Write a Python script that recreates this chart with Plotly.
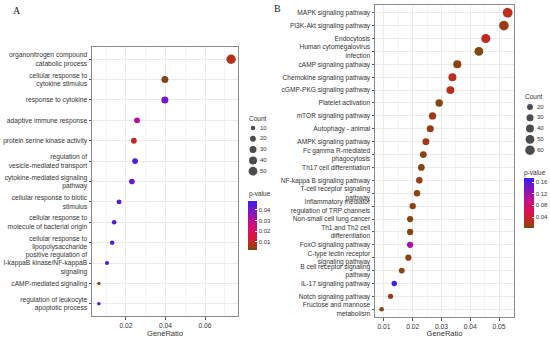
import plotly.graph_objects as go
import numpy as np

# ---------------- Panel A data ----------------
a_terms = [
    "organonitrogen compound<br>catabolic process",
    "cellular response to<br>cytokine stimulus",
    "response to cytokine",
    "adaptive immune response",
    "protein serine kinase activity",
    "regulation of<br>vesicle-mediated transport",
    "cytokine-mediated signaling<br>pathway",
    "cellular response to biotic<br>stimulus",
    "cellular response to<br>molecule of bacterial origin",
    "cellular response to<br>lipopolysaccharide",
    "positive regulation of<br>I-kappaB kinase/NF-kappaB<br>signaling",
    "cAMP-mediated signaling",
    "regulation of leukocyte<br>apoptotic process",
]
a_ratio = [0.0732, 0.0397, 0.0397, 0.0256, 0.0240, 0.0246, 0.0230, 0.0165, 0.0140, 0.0130, 0.0104, 0.0063, 0.0063]
a_count = [58, 30, 30, 20, 19, 19, 18, 13, 11, 10, 8, 5, 5]
a_pvalue = [0.008, 0.003, 0.040, 0.030, 0.010, 0.045, 0.042, 0.043, 0.045, 0.045, 0.046, 0.004, 0.048]
a_xticks = [0.02, 0.04, 0.06]
a_count_breaks = [10, 20, 30, 40, 50]
a_p_ticks = [0.01, 0.02, 0.03, 0.04]
a_p_range = [0.0025, 0.0484]

# ---------------- Panel B data ----------------
b_terms = [
    "MAPK signaling pathway",
    "PI3K-Akt signaling pathway",
    "Endocytosis",
    "Human cytomegalovirus<br>infection",
    "cAMP signaling pathway",
    "Chemokine signaling pathway",
    "cGMP-PKG signaling pathway",
    "Platelet activation",
    "mTOR signaling pathway",
    "Autophagy - animal",
    "AMPK signaling pathway",
    "Fc gamma R-mediated<br>phagocytosis",
    "Th17 cell differentiation",
    "NF-kappa B signaling pathway",
    "T-cell receptor signaling<br>pathway",
    "Inflammatory mediator<br>regulation of TRP channels",
    "Non-small cell lung cancer",
    "Th1 and Th2 cell<br>differentiation",
    "FoxO signaling pathway",
    "C-type lectin receptor<br>signaling pathway",
    "B cell receptor signaling<br>pathway",
    "IL-17 signaling pathway",
    "Notch signaling pathway",
    "Fructose and mannose<br>metabolism",
]
b_ratio = [0.0530, 0.0517, 0.0454, 0.0430, 0.0355, 0.0338, 0.0331, 0.0292, 0.0269, 0.0261,
           0.0246, 0.0237, 0.0230, 0.0223, 0.0215, 0.0200, 0.0191, 0.0191, 0.0191, 0.0185,
           0.0162, 0.0136, 0.0123, 0.0092]
b_count = [63, 61, 54, 51, 42, 40, 39, 34, 32, 31, 29, 28, 27, 26, 25, 24, 23, 23, 23, 22, 19, 16, 15, 11]
b_pvalue = [0.025, 0.012, 0.030, 0.004, 0.008, 0.025, 0.022, 0.006, 0.015, 0.012,
            0.015, 0.008, 0.006, 0.014, 0.008, 0.010, 0.006, 0.006, 0.110, 0.010,
            0.008, 0.170, 0.012, 0.005]
b_xticks = [0.01, 0.02, 0.03, 0.04, 0.05]
b_count_breaks = [20, 30, 40, 50, 60]
b_p_ticks = [0.04, 0.08, 0.12, 0.16]
b_p_range = [0.0024, 0.174]

# ---------------- styling ----------------
W, H = 550, 338
FONT = "Liberation Sans, Arial, sans-serif"
TICK_COL = "#333333"
GRID = "#ebebeb"
SCALE = [[0.0, "#7a4a10"], [0.12, "#b8301a"], [0.3, "#e0104a"], [0.5, "#d0107a"],
         [0.7, "#9a10b0"], [0.85, "#6a18d0"], [1.0, "#3a1ef0"]]


def dia(c):
    return 1.0 + 1.1 * np.sqrt(np.asarray(c, dtype=float))


def px_x(x):
    return x / W


def px_y(y):
    return 1 - y / H


fig = go.Figure()

# Panel A points
fig.add_trace(go.Scatter(
    x=a_ratio, y=a_terms, mode="markers", xaxis="x", yaxis="y", showlegend=False,
    marker=dict(size=dia(a_count), color=a_pvalue, colorscale=SCALE,
                cmin=a_p_range[0], cmax=a_p_range[1], line=dict(width=0), opacity=1,
                showscale=True,
                colorbar=dict(x=px_x(248), xanchor="left", y=px_y(225.5), yanchor="middle",
                              lenmode="pixels", len=49, thicknessmode="pixels", thickness=9,
                              xpad=0, ypad=0, outlinewidth=0, tickvals=a_p_ticks,
                              ticktext=[f"{v:.2f}" for v in a_p_ticks],
                              ticks="inside", ticklen=2, tickcolor="white",
                              tickfont=dict(size=6, color=TICK_COL, family=FONT)))))

# Panel B points
fig.add_trace(go.Scatter(
    x=b_ratio, y=b_terms, mode="markers", xaxis="x2", yaxis="y2", showlegend=False,
    marker=dict(size=dia(b_count), color=b_pvalue, colorscale=SCALE,
                cmin=b_p_range[0], cmax=b_p_range[1], line=dict(width=0), opacity=1,
                showscale=True,
                colorbar=dict(x=px_x(524), xanchor="left", y=px_y(203), yanchor="middle",
                              lenmode="pixels", len=50, thicknessmode="pixels", thickness=10,
                              xpad=0, ypad=0, outlinewidth=0, tickvals=b_p_ticks,
                              ticktext=[f"{v:.2f}" for v in b_p_ticks],
                              ticks="inside", ticklen=2, tickcolor="white",
                              tickfont=dict(size=6, color=TICK_COL, family=FONT)))))

# Size legends on a pixel overlay axis
for x0, y0, breaks in [(253, 128, a_count_breaks), (530, 107, b_count_breaks)]:
    ys = [y0 + i * 10.8 for i in range(len(breaks))]
    fig.add_trace(go.Scatter(x=[x0] * len(breaks), y=ys, mode="markers", xaxis="x3", yaxis="y3",
                             showlegend=False, hoverinfo="skip",
                             marker=dict(size=dia(breaks), color="black", line=dict(width=0))))
    fig.add_trace(go.Scatter(x=[x0 + 7] * len(breaks), y=ys, mode="text", xaxis="x3", yaxis="y3",
                             showlegend=False, hoverinfo="skip", text=[str(b) for b in breaks],
                             textposition="middle right",
                             textfont=dict(size=6, color=TICK_COL, family=FONT)))

axis_common = dict(showline=True, mirror=True, linecolor="#8a8a8a", linewidth=1,
                   showgrid=True, gridcolor=GRID, gridwidth=1, zeroline=False,
                   ticks="outside", ticklen=2.5, tickcolor="#555", tickwidth=0.8,
                   automargin=False,
                   tickfont=dict(size=6.7, color=TICK_COL, family=FONT))

nA, nB = len(a_terms), len(b_terms)
fig.update_layout(
    width=W, height=H, margin=dict(l=0, r=0, t=0, b=0, autoexpand=False),
    paper_bgcolor="white", plot_bgcolor="rgba(0,0,0,0)", font=dict(family=FONT),
    xaxis=dict(domain=[px_x(92), px_x(238)], anchor="y", range=[0.0028, 0.0767],
               tickvals=a_xticks, ticktext=[f"{v:.2f}" for v in a_xticks],
               minor=dict(showgrid=True, gridcolor="#f4f4f4", dtick=0.01, tick0=0.01),
               title=dict(text="GeneRatio", font=dict(size=7.5, color=TICK_COL, family=FONT), standoff=2),
               **axis_common),
    yaxis=dict(domain=[px_y(316), px_y(47)], anchor="x", type="category",
               categoryorder="array", categoryarray=a_terms,
               range=[nA - 1 + 0.6, -0.6], **axis_common),
    xaxis2=dict(domain=[px_x(375), px_x(514)], anchor="y2", range=[0.0069, 0.0552],
                tickvals=b_xticks, ticktext=[f"{v:.2f}" for v in b_xticks],
                minor=dict(showgrid=True, gridcolor="#f4f4f4", dtick=0.005, tick0=0.005),
                title=dict(text="GeneRatio", font=dict(size=7.5, color=TICK_COL, family=FONT), standoff=2),
                **axis_common),
    yaxis2=dict(domain=[px_y(317), px_y(5)], anchor="x2", type="category",
                categoryorder="array", categoryarray=b_terms,
                range=[nB - 1 + 0.6, -0.6], **dict(axis_common, tickfont=dict(size=6.6, color=TICK_COL, family=FONT))),
    xaxis3=dict(domain=[0, 1], range=[0, W], visible=False, fixedrange=True, automargin=False),
    yaxis3=dict(domain=[0, 1], range=[H, 0], visible=False, fixedrange=True, anchor="x3", automargin=False),
)

annos = [
    dict(text="A", x=px_x(17), y=px_y(10), font=dict(size=10, family="Liberation Serif, Times New Roman, serif", color="#222")),
    dict(text="B", x=px_x(277), y=px_y(8), font=dict(size=10, family="Liberation Serif, Times New Roman, serif", color="#222")),
    dict(text="Count", x=px_x(247), y=px_y(118), xanchor="left", font=dict(size=6.5, color="#333", family=FONT)),
    dict(text="p-value", x=px_x(247), y=px_y(194), xanchor="left", font=dict(size=6.5, color="#333", family=FONT)),
    dict(text="Count", x=px_x(523), y=px_y(96), xanchor="left", font=dict(size=6.5, color="#333", family=FONT)),
    dict(text="p-value", x=px_x(522), y=px_y(173), xanchor="left", font=dict(size=6.5, color="#333", family=FONT)),
]
for a in annos:
    a.update(xref="paper", yref="paper", showarrow=False)
    a.setdefault("xanchor", "center")
    a["yanchor"] = "middle"
fig.update_layout(annotations=annos)

fig.write_html("out.html", config={"displayModeBar": False},
               post_script="document.body.style.margin='0px';document.body.style.overflow='hidden';")
